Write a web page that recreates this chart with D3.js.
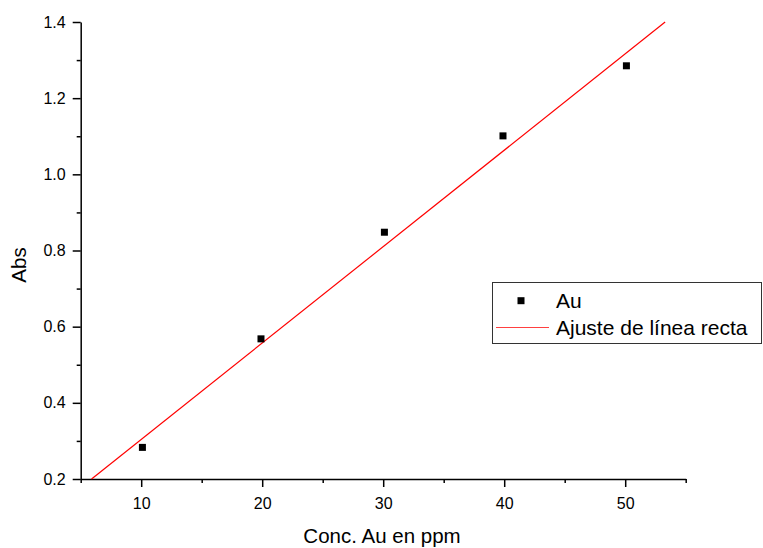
<!DOCTYPE html>
<html>
<head>
<meta charset="utf-8">
<script src="https://cdn.jsdelivr.net/npm/d3@7"></script>
<style>
  body { margin: 0; background: #fff; }
  svg { display: block; font-family: "Liberation Sans", Arial, sans-serif; }
</style>
</head>
<body>
<svg id="chart" width="763" height="548"></svg>
<script>
// measured points (Au standards)
const conc = [10.1, 19.9, 30.1, 39.9, 50.1]
const abs = [0.283, 0.568, 0.848, 1.101, 1.285]

// straight line fit, endpoints
const fitX = [5.9, 53.3]
const fitY = [0.2, 1.4]

const xTicks = [10, 20, 30, 40, 50]
const xMinor = [5, 15, 25, 35, 45, 55]
const yTicks = [0.2, 0.4, 0.6, 0.8, 1.0, 1.2, 1.4]
const yMinor = [0.3, 0.5, 0.7, 0.9, 1.1, 1.3]

const legendLabels = ["Au", "Ajuste de línea recta"]

const svg = d3.select('#chart')

const x = d3.scaleLinear().domain([5, 55]).range([80.7, 685.7])
const y = d3.scaleLinear().domain([0.2, 1.4]).range([479, 22])

// axes
const xAxis = svg.append('g')
  .attr('transform', `translate(0, ${y(0.2)})`)
  .call(d3.axisBottom(x).tickValues(xTicks).tickSize(8).tickSizeOuter(0).tickPadding(11).tickFormat(d3.format('d')))
xAxis.append('g')
  .call(d3.axisBottom(x).tickValues(xMinor).tickSize(4).tickFormat(''))
  .select('.domain').remove()

const yAxis = svg.append('g')
  .attr('transform', `translate(${x(5)}, 0)`)
  .call(d3.axisLeft(y).tickValues(yTicks).tickSize(8).tickSizeOuter(0).tickPadding(7).tickFormat(d3.format('.1f')))
yAxis.append('g')
  .call(d3.axisLeft(y).tickValues(yMinor).tickSize(4).tickFormat(''))
  .select('.domain').remove()

svg.selectAll('.domain').attr('stroke', '#000').attr('stroke-width', 1.5)
svg.selectAll('.tick line').attr('stroke', '#000').attr('stroke-width', 1.5)
svg.selectAll('.tick text').attr('fill', '#000').style('font-size', '16px')
  .style('font-family', '"Liberation Sans", Arial, sans-serif')

// axis titles
svg.append('text')
  .attr('x', 382)
  .attr('y', 543)
  .attr('text-anchor', 'middle')
  .style('font-size', '20.5px')
  .text('Conc. Au en ppm')

svg.append('text')
  .attr('transform', `translate(26, 265) rotate(-90)`)
  .attr('text-anchor', 'middle')
  .style('font-size', '20.5px')
  .text('Abs')

// fit line
const line = d3.line().x(d => x(d[0])).y(d => y(d[1]))
svg.append('path')
  .datum(d3.zip(fitX, fitY))
  .attr('fill', 'none')
  .attr('stroke', '#ff0000')
  .attr('stroke-width', 1.2)
  .attr('d', line)

// points
const s = 7
svg.append('g')
  .selectAll('rect')
  .data(d3.zip(conc, abs))
  .join('rect')
    .attr('x', d => x(d[0]) - s / 2)
    .attr('y', d => y(d[1]) - s / 2)
    .attr('width', s)
    .attr('height', s)
    .attr('fill', '#000')

// legend
const lg = svg.append('g')
lg.append('rect')
  .attr('x', 492.5).attr('y', 282.5)
  .attr('width', 269).attr('height', 61)
  .attr('fill', '#fff')
  .attr('stroke', '#333')
  .attr('stroke-width', 1)
lg.append('rect')
  .attr('x', 521 - s / 2).attr('y', 300.7 - s / 2)
  .attr('width', s).attr('height', s)
  .attr('fill', '#000')
lg.append('line')
  .attr('x1', 496).attr('x2', 549)
  .attr('y1', 327.5).attr('y2', 327.5)
  .attr('stroke', '#ff4040')
  .attr('stroke-width', 1.2)
lg.selectAll('text')
  .data(legendLabels)
  .join('text')
    .attr('x', 556)
    .attr('y', (d, i) => i === 0 ? 308 : 335)
    .style('font-size', '21px')
    .text(d => d)
</script>
</body>
</html>
